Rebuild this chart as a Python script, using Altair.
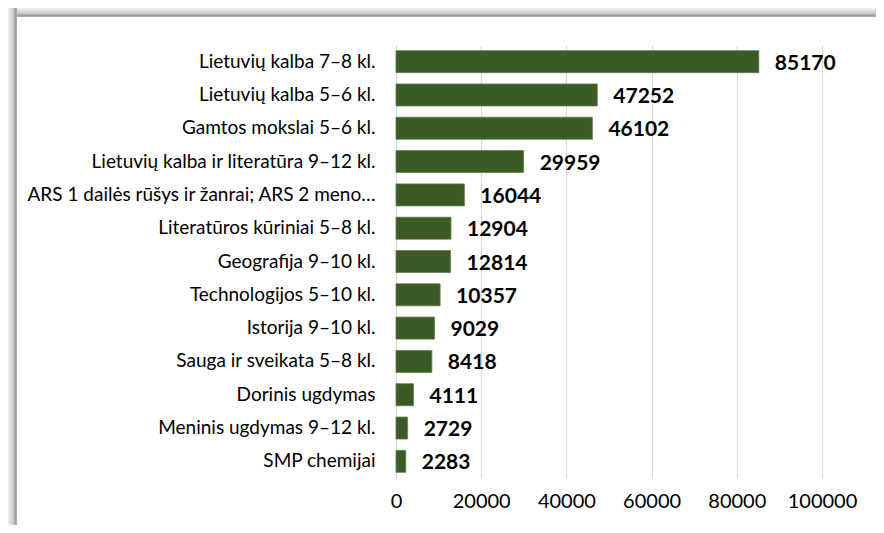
import altair as alt
import pandas as pd

categories = [
    "Lietuvių kalba 7–8 kl.",
    "Lietuvių kalba 5–6 kl.",
    "Gamtos mokslai 5–6 kl.",
    "Lietuvių kalba ir literatūra 9–12 kl.",
    "ARS 1 dailės rūšys ir žanrai; ARS 2 meno…",
    "Literatūros kūriniai 5–8 kl.",
    "Geografija 9–10 kl.",
    "Technologijos 5–10 kl.",
    "Istorija 9–10 kl.",
    "Sauga ir sveikata 5–8 kl.",
    "Dorinis ugdymas",
    "Meninis ugdymas 9–12 kl.",
    "SMP chemijai",
]
values = [85170, 47252, 46102, 29959, 16044, 12904, 12814, 10357, 9029, 8418, 4111, 2729, 2283]
x_ticks = [0, 20000, 40000, 60000, 80000, 100000]

df = pd.DataFrame({"category": categories, "value": values})

FONT = "Lato"
W, H = 426, 433
PAD_L, PAD_T = 388, 37
PAD_R = 868 - PAD_L - W
PAD_B = 517 - PAD_T - H

y_enc = alt.Y(
    "category:N",
    sort=categories,
    title=None,
    scale=alt.Scale(paddingInner=0.34, paddingOuter=0.17),
    axis=alt.Axis(domain=False, ticks=False, grid=False, labelPadding=21,
                  labelFontSize=19, labelFont=FONT, labelColor="#000000",
                  labelLimit=400),
)
x_enc = alt.X(
    "value:Q",
    title=None,
    scale=alt.Scale(domain=[0, 100000], nice=False, zero=True),
    axis=alt.Axis(values=x_ticks, domain=False, ticks=False, grid=True,
                  gridColor="#d9d9d9", gridWidth=1.2, labelPadding=13,
                  labelFontSize=20, labelFont=FONT, labelColor="#000000",
                  format="d", labelFlush=False),
)

base = alt.Chart(df)
bars = base.mark_bar(color="#3b5a24", stroke="#5f7d49", strokeWidth=0.8).encode(x=x_enc, y=y_enc)
labels = base.mark_text(align="left", baseline="middle", dx=16, dy=2,
                        fontWeight="bold", fontSize=21, font=FONT, color="#000000").encode(
    x="value:Q", y=alt.Y("category:N", sort=categories), text="value:Q")

frame_data = alt.Data(values=[{"k": 1}])
top_grad = alt.LinearGradient(gradient="linear", x1=0, y1=0, x2=0, y2=1, stops=[
    alt.GradientStop(color="#f2f2f2", offset=0),
    alt.GradientStop(color="#c8c8c8", offset=0.6),
    alt.GradientStop(color="#9a9a9a", offset=0.85),
    alt.GradientStop(color="#b5b5b5", offset=1),
])
left_grad = alt.LinearGradient(gradient="linear", x1=0, y1=0, x2=1, y2=0, stops=[
    alt.GradientStop(color="#f2f2f2", offset=0),
    alt.GradientStop(color="#c8c8c8", offset=0.6),
    alt.GradientStop(color="#9a9a9a", offset=0.85),
    alt.GradientStop(color="#b5b5b5", offset=1),
])
top_band = alt.Chart(frame_data).mark_rect(fill=top_grad, strokeWidth=0).encode(
    x=alt.value(-PAD_L - 2), x2=alt.value(W + PAD_R + 2),
    y=alt.value(-PAD_T), y2=alt.value(-PAD_T + 9))
left_band = alt.Chart(frame_data).mark_rect(fill=left_grad, strokeWidth=0).encode(
    x=alt.value(-PAD_L), x2=alt.value(-PAD_L + 9),
    y=alt.value(-PAD_T), y2=alt.value(H + PAD_B + 2))

chart = alt.layer(bars, labels, top_band, left_band).properties(
    width=W, height=H,
    padding={"left": PAD_L, "top": PAD_T, "right": PAD_R, "bottom": PAD_B},
    autosize=alt.AutoSizeParams(type="none"),
    background="white",
).configure_view(stroke=None)

chart.save("out.html", embed_options={"renderer": "svg", "actions": False})
